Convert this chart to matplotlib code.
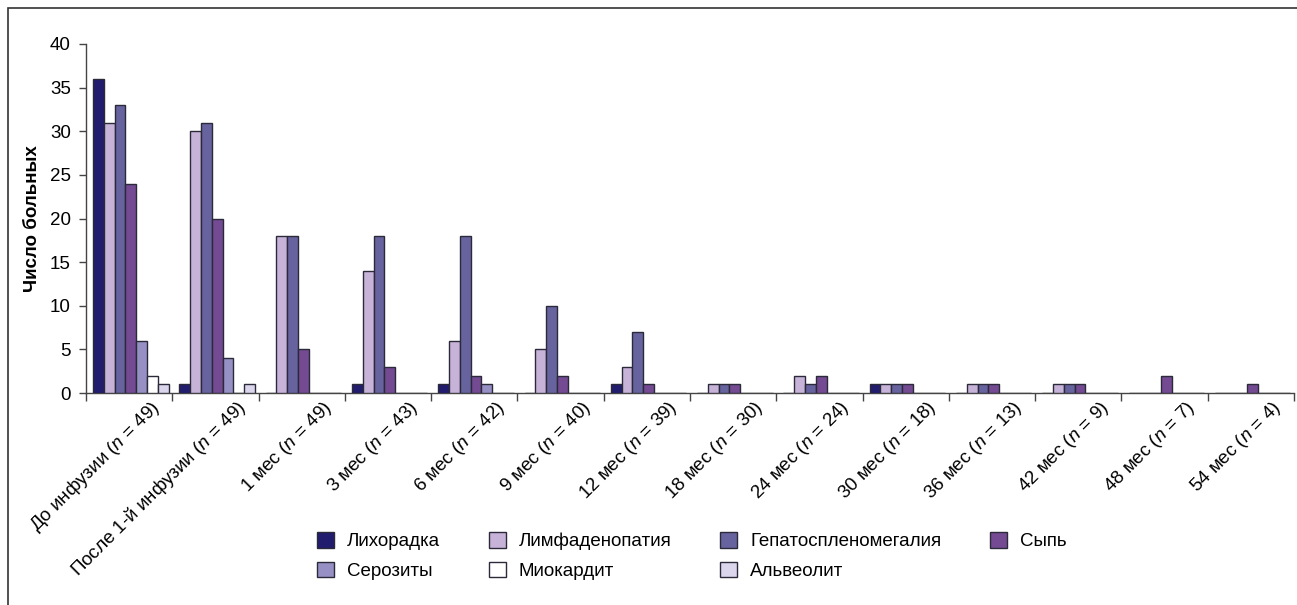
import numpy as np
import matplotlib.pyplot as plt
import matplotlib.transforms as mtrans
from matplotlib.patches import Rectangle

plt.rcParams['font.family'] = ['Liberation Sans', 'DejaVu Sans']
plt.rcParams['mathtext.fontset'] = 'custom'
plt.rcParams['mathtext.rm'] = 'Liberation Sans'
plt.rcParams['mathtext.it'] = 'Liberation Sans:italic'

# --- Data ---
periods = ['До инфузии', 'После 1-й инфузии', '1 мес', '3 мес', '6 мес', '9 мес', '12 мес',
           '18 мес', '24 мес', '30 мес', '36 мес', '42 мес', '48 мес', '54 мес']
n_patients = [49, 49, 49, 43, 42, 40, 39, 30, 24, 18, 13, 9, 7, 4]

series_names = ['Лихорадка', 'Лимфаденопатия', 'Гепатоспленомегалия', 'Сыпь',
                'Серозиты', 'Миокардит', 'Альвеолит']
fever = [36, 1, 0, 1, 1, 0, 1, 0, 0, 1, 0, 0, 0, 0]
lymph = [31, 30, 18, 14, 6, 5, 3, 1, 2, 1, 1, 1, 0, 0]
hepato = [33, 31, 18, 18, 18, 10, 7, 1, 1, 1, 1, 1, 0, 0]
rash = [24, 20, 5, 3, 2, 2, 1, 1, 2, 1, 1, 1, 2, 1]
serosit = [6, 4, 0, 0, 1, 0, 0, 0, 0, 0, 0, 0, 0, 0]
myocard = [2, 0, 0, 0, 0, 0, 0, 0, 0, 0, 0, 0, 0, 0]
alveol = [1, 1, 0, 0, 0, 0, 0, 0, 0, 0, 0, 0, 0, 0]
series = [fever, lymph, hepato, rash, serosit, myocard, alveol]
colors = ['#221c6e', '#c8b3d8', '#67639e', '#744a93', '#9690c4', '#ffffff', '#dcd6ec']

# --- Figure ---
fig = plt.figure(figsize=(12.97, 6.05), dpi=100)
ax = fig.add_axes([86 / 1297, 1 - 393 / 605, (1294 - 86) / 1297, (393 - 44) / 605])

# frame around the chart
fig.patches.append(Rectangle((8 / 1297, -0.1), 1.2, 1 - 8 / 605 + 0.1, transform=fig.transFigure,
                             fill=False, edgecolor='#333333', linewidth=1.2))

x = np.arange(len(periods))
w = 0.125
handles = []
for i, (vals, c) in enumerate(zip(series, colors)):
    offs = (i - 3) * w + 0.02
    h = ax.bar(x + offs, vals, width=w, color=c, edgecolor='#2a2a3a', linewidth=1.0,
               label=series_names[i], zorder=3)
    handles.append(h)

ax.set_xlim(-0.5, len(periods) - 0.5)
ax.set_ylim(0, 40)
ax.set_yticks(range(0, 41, 5))
ax.tick_params(axis='y', labelsize=13.5, length=5, width=1, color='#444444', pad=6)

labels = [f'{p} ($\\mathit{{n}}$ = {n})' for p, n in zip(periods, n_patients)]
ax.set_xticks(x)
ax.set_xticklabels(labels, rotation=45, ha='right', rotation_mode='anchor', fontsize=13.5)
ax.tick_params(axis='x', which='major', length=0, pad=3)
ax.set_xticks(np.arange(-0.5, len(periods)), minor=True)
ax.tick_params(axis='x', which='minor', length=6, width=1, color='#444444')

for lbl in ax.get_xticklabels():
    lbl.set_transform(lbl.get_transform() + mtrans.ScaledTranslation(20 / 100, 0, fig.dpi_scale_trans))

for s in ['top', 'right']:
    ax.spines[s].set_visible(False)
for s in ['left', 'bottom']:
    ax.spines[s].set_color('#444444')
    ax.spines[s].set_linewidth(1)

ax.set_ylabel('Число больных', fontsize=13.5, fontweight='bold', labelpad=6)

order = [0, 4, 1, 5, 2, 6, 3]
fig.legend([handles[i] for i in order], [series_names[i] for i in order],
           ncol=4, loc='center left', bbox_to_anchor=(300 / 1297, 1 - 556 / 605),
           frameon=False, fontsize=13.5, handlelength=0.9, handleheight=0.88,
           handletextpad=0.7, columnspacing=2.6, labelspacing=0.6)

fig.savefig('out.png', dpi=100)
